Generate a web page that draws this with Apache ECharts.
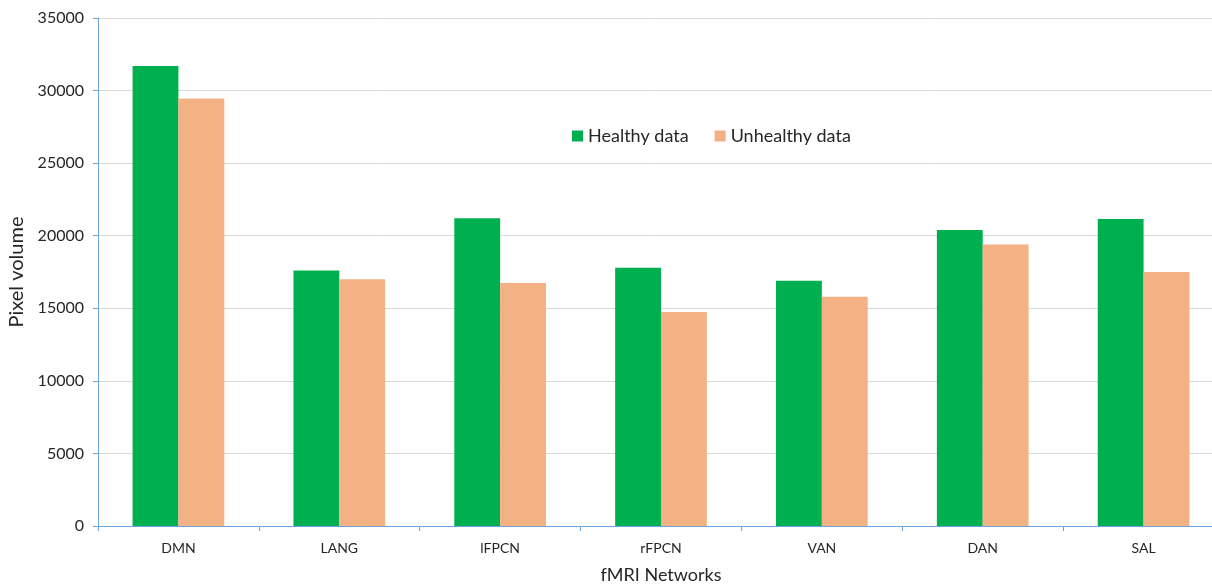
<!DOCTYPE html>
<html>
<head>
<meta charset="utf-8">
<script src="https://cdn.jsdelivr.net/npm/echarts@6/dist/echarts.min.js"></script>
<style>
html,body{margin:0;padding:0;background:#fff;}
#chart{width:1212px;height:584px;}
</style>
</head>
<body>
<div id="chart"></div>
<script>
const categories = ['DMN', 'LANG', 'lFPCN', 'rFPCN', 'VAN', 'DAN', 'SAL'];
const healthy = [31700, 17600, 21200, 17800, 16900, 20400, 21150];
const unhealthy = [29450, 17000, 16750, 14750, 15800, 19400, 17500];
const seriesNames = ['Healthy data', 'Unhealthy data'];
const yTicks = { min: 0, max: 35000, interval: 5000 };

const FONT = 'Lato, "Liberation Sans", sans-serif';
const AXIS_COLOR = '#6aa6dc';
const chart = echarts.init(document.getElementById('chart'), null, { renderer: 'canvas' });
chart.setOption({
  animation: false,
  backgroundColor: '#ffffff',
  textStyle: { fontFamily: FONT },
  legend: {
    data: seriesNames,
    left: 567,
    top: 122,
    itemWidth: 11,
    itemHeight: 11,
    itemGap: 26,
    icon: 'rect',
    textStyle: { fontSize: 18, color: '#262626', fontFamily: FONT }
  },
  grid: { left: 98, right: -12, top: 18, bottom: 58, containLabel: false, outerBoundsMode: 'none' },
  xAxis: {
    type: 'category',
    data: categories,
    name: 'fMRI Networks',
    nameLocation: 'middle',
    nameGap: 40,
    nameTextStyle: { fontSize: 18, color: '#262626', fontFamily: FONT },
    axisLine: { lineStyle: { color: AXIS_COLOR, width: 1 } },
    axisTick: { show: true, length: 5, lineStyle: { color: AXIS_COLOR } },
    axisLabel: { fontSize: 14, color: '#262626', margin: 15, fontFamily: FONT }
  },
  yAxis: {
    type: 'value',
    min: yTicks.min,
    max: yTicks.max,
    interval: yTicks.interval,
    name: 'Pixel volume',
    nameLocation: 'middle',
    nameGap: 70,
    nameTextStyle: { fontSize: 20, color: '#262626', fontFamily: FONT },
    axisLine: { show: true, lineStyle: { color: AXIS_COLOR, width: 1 } },
    axisTick: { show: true, length: 5, lineStyle: { color: AXIS_COLOR } },
    axisLabel: { fontSize: 16, color: '#262626', margin: 14, fontFamily: FONT, formatter: v => String(v) },
    splitLine: { show: true, lineStyle: { color: '#d9d9d9', width: 1 } }
  },
  series: [
    {
      name: seriesNames[0],
      type: 'bar',
      data: healthy,
      itemStyle: { color: '#00b050' },
      barGap: '0%',
      barCategoryGap: '43%'
    },
    {
      name: seriesNames[1],
      type: 'bar',
      data: unhealthy,
      itemStyle: { color: '#f4b183' },
      barGap: '0%',
      barCategoryGap: '43%'
    }
  ]
});
</script>
</body>
</html>
